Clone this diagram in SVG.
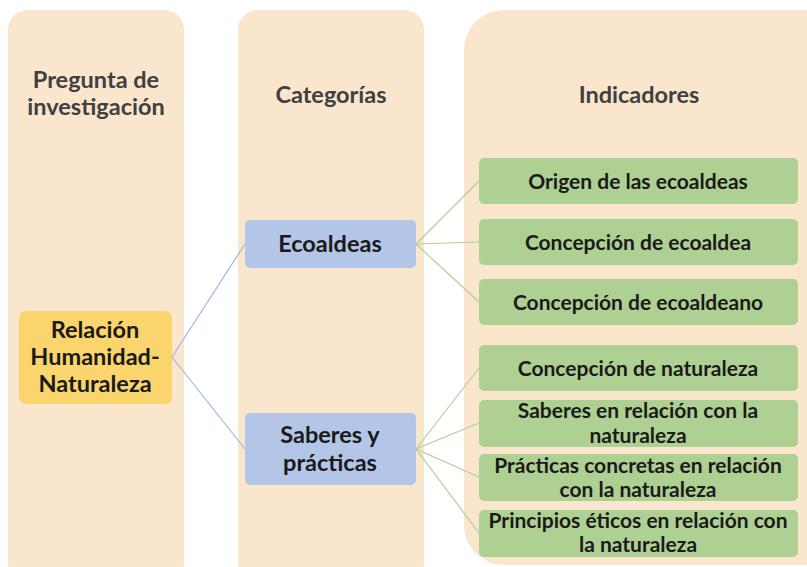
<svg xmlns="http://www.w3.org/2000/svg" width="807" height="567" viewBox="0 0 807 567">
<style>
.col{fill:#FAE6CD}
.hdr{font-family:Lato,"Liberation Sans",sans-serif;font-weight:bold;font-size:23.5px;fill:#404040;text-anchor:middle}
.txt{font-family:Lato,"Liberation Sans",sans-serif;font-weight:bold;font-size:21px;fill:#1a1a1a;text-anchor:middle}
.big{font-size:23.5px}
.yel{fill:#FAD56D}
.blu{fill:#B4C6E7}
.grn{fill:#AED092}
.lb{stroke:#9FB6E0;stroke-width:1.2;fill:none}
.lg{stroke:#AFD094;stroke-width:1.2;fill:none}
</style>
<rect width="807" height="567" fill="#ffffff"/>
<g id="columns">
<rect class="col" x="8" y="10" width="176" height="572" rx="20"/>
<rect class="col" x="238" y="10" width="186" height="572" rx="20"/>
<rect class="col" x="464" y="10" width="380" height="555" rx="40"/>
<text class="hdr" x="96" y="88">Pregunta de</text>
<text class="hdr" x="96" y="115">investigación</text>
<text class="hdr" x="331" y="103">Categorías</text>
<text class="hdr" x="639" y="103">Indicadores</text>
</g>
<g id="connectors">
<path class="lb" d="M172 357 L245 244"/>
<path class="lb" d="M172 357 L245 449"/>
<path class="lg" d="M416 244 L479 181"/>
<path class="lg" d="M416 244 L479 242"/>
<path class="lg" d="M416 244 L479 302"/>
<path class="lg" d="M416 449 L479 368"/>
<path class="lg" d="M416 449 L479 423"/>
<path class="lg" d="M416 449 L479 477"/>
<path class="lg" d="M416 449 L479 533"/>
</g>
<g id="n-relacion">
<rect class="yel" x="19" y="311" width="153" height="93" rx="7"/>
<text class="txt big" x="95" y="338">Relación</text>
<text class="txt big" x="95" y="365">Humanidad-</text>
<text class="txt big" x="95" y="392">Naturaleza</text>
</g>
<g id="n-ecoaldeas">
<rect class="blu" x="245" y="220" width="171" height="48" rx="5"/>
<text class="txt big" x="330" y="252">Ecoaldeas</text>
</g>
<g id="n-saberes">
<rect class="blu" x="245" y="413" width="171" height="72" rx="5"/>
<text class="txt big" x="330" y="443">Saberes y</text>
<text class="txt big" x="330" y="471">prácticas</text>
</g>
<g id="n-origen">
<rect class="grn" x="479" y="158" width="319" height="46" rx="5"/>
<text class="txt" x="638" y="189">Origen de las ecoaldeas</text>
</g>
<g id="n-concep-ecoaldea">
<rect class="grn" x="479" y="219" width="319" height="46" rx="5"/>
<text class="txt" x="638" y="250">Concepción de ecoaldea</text>
</g>
<g id="n-concep-ecoaldeano">
<rect class="grn" x="479" y="279" width="319" height="46" rx="5"/>
<text class="txt" x="638" y="310">Concepción de ecoaldeano</text>
</g>
<g id="n-concep-naturaleza">
<rect class="grn" x="479" y="345" width="319" height="46" rx="5"/>
<text class="txt" x="638" y="376">Concepción de naturaleza</text>
</g>
<g id="n-saberes-rel">
<rect class="grn" x="479" y="400" width="319" height="47" rx="5"/>
<text class="txt" x="638" y="418">Saberes en relación con la</text>
<text class="txt" x="638" y="443">naturaleza</text>
</g>
<g id="n-practicas">
<rect class="grn" x="479" y="454" width="319" height="47" rx="5"/>
<text class="txt" x="638" y="473">Prácticas concretas en relación</text>
<text class="txt" x="638" y="497">con la naturaleza</text>
</g>
<g id="n-principios">
<rect class="grn" x="479" y="510" width="319" height="47" rx="5"/>
<text class="txt" x="638" y="528">Principios éticos en relación con</text>
<text class="txt" x="638" y="552">la naturaleza</text>
</g>
</svg>
